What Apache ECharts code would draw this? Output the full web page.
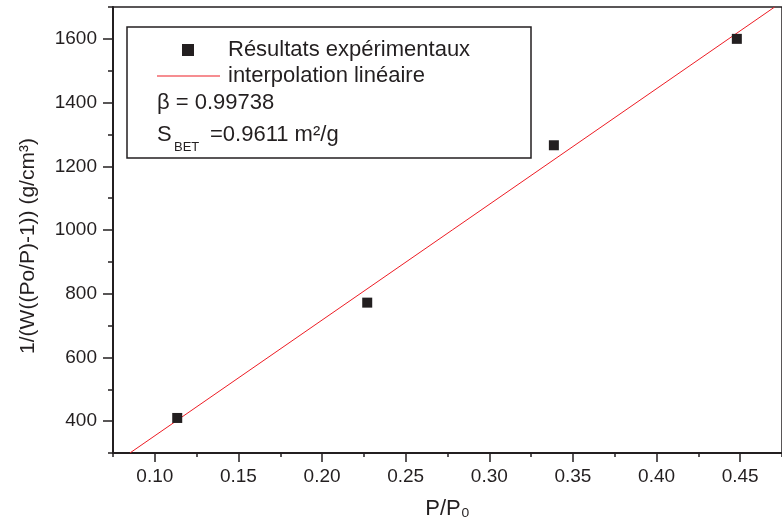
<!DOCTYPE html>
<html>
<head>
<meta charset="utf-8">
<script src="https://cdn.jsdelivr.net/npm/echarts@6/dist/echarts.min.js"></script>
<style>
html,body{margin:0;padding:0;background:#fff;}
#chart{width:782px;height:529px;}
</style>
</head>
<body>
<div id="chart"></div>
<script>
// ---- data ----
var pointsX = [0.1134, 0.227, 0.3386, 0.448];
var pointsY = [410, 772, 1266, 1600];
var fitX = [0.0851, 0.4706];
var fitY = [300, 1700];
var xMajorTicks = [0.10, 0.15, 0.20, 0.25, 0.30, 0.35, 0.40, 0.45];
var yMajorTicks = [400, 600, 800, 1000, 1200, 1400, 1600];
var seriesNames = ['Résultats expérimentaux', 'interpolation linéaire'];
var betaText = 'β = 0.99738';
var sbetMain = 'S';
var sbetSub = 'BET';
var sbetValue = '=0.9611 m²/g';
var xTitle = 'P/P₀';
var yTitle = '1/(W((Po/P)-1)) (g/cm³)';

var INK = '#231f20';
var RED = '#ed1c24';
var FONT = '"Liberation Sans", Arial, sans-serif';

var scatterData = pointsX.map(function (x, i) { return [x, pointsY[i]]; });
var fitData = fitX.map(function (x, i) { return [x, fitY[i]]; });

var chart = echarts.init(document.getElementById('chart'));
chart.setOption({
  animation: false,
  backgroundColor: '#fff',
  grid: {
    left: 113, top: 7, right: -11, bottom: 76,
    show: true, borderColor: INK, borderWidth: 1.5,
    containLabel: false
  },
  xAxis: [{
    type: 'value', min: 0.075, max: 0.475, position: 'bottom',
    axisLine: { show: true, onZero: false, lineStyle: { color: INK, width: 2 } },
    axisTick: { show: true, customValues: xMajorTicks, length: 9, lineStyle: { color: INK, width: 1.5 } },
    axisLabel: {
      customValues: xMajorTicks, margin: 14, color: INK, fontSize: 19, fontFamily: FONT,
      formatter: function (v) { return v.toFixed(2); }
    },
    splitLine: { show: false },
    name: xTitle, nameLocation: 'middle', nameGap: 45,
    nameTextStyle: { color: INK, fontSize: 22, fontFamily: FONT }
  }, {
    type: 'value', min: 0.075, max: 0.475, interval: 0.025, position: 'bottom',
    axisLine: { show: false },
    axisTick: { show: true, length: 4, lineStyle: { color: INK, width: 1.5 } },
    axisLabel: { show: false },
    splitLine: { show: false }
  }],
  yAxis: [{
    type: 'value', min: 300, max: 1700, position: 'left',
    axisLine: { show: true, onZero: false, lineStyle: { color: INK, width: 2 } },
    axisTick: { show: true, customValues: yMajorTicks, length: 10, lineStyle: { color: INK, width: 1.5 } },
    axisLabel: {
      customValues: yMajorTicks, margin: 16, color: INK, fontSize: 19, fontFamily: FONT,
      formatter: function (v) { return String(Math.round(v)); }
    },
    splitLine: { show: false },
    name: yTitle, nameLocation: 'middle', nameGap: 74, nameRotate: 90,
    nameTextStyle: { color: INK, fontSize: 21, fontFamily: FONT, padding: [0, 32, 0, 0] }
  }, {
    type: 'value', min: 300, max: 1700, interval: 100, position: 'left',
    axisLine: { show: false },
    axisTick: { show: true, length: 5, lineStyle: { color: INK, width: 1.5 } },
    axisLabel: { show: false },
    splitLine: { show: false }
  }],
  legend: [{
    data: [{ name: seriesNames[0], icon: 'rect' }], left: 182, top: 37, padding: 0,
    itemWidth: 12, itemHeight: 12, selectedMode: false,
    itemStyle: { opacity: 1 },
    textStyle: { color: INK, fontSize: 22, fontFamily: FONT, lineHeight: 26, padding: [0, 0, 0, 29] }
  }, {
    data: [{ name: seriesNames[1], icon: 'rect', itemStyle: { color: RED } }], left: 157, top: 63, padding: 0,
    itemWidth: 63, itemHeight: 1.2, selectedMode: false,
    textStyle: { color: INK, fontSize: 22, fontFamily: FONT, lineHeight: 26, padding: [0, 0, 0, 3] }
  }],
  graphic: [
    { type: 'rect', shape: { x: 127, y: 27, width: 404, height: 131 },
      style: { fill: 'none', stroke: INK, lineWidth: 1.5 }, z: 10 },
    { type: 'text', z: 10, style: { x: 157, y: 103, text: betaText, font: '22px ' + FONT, fill: INK, align: 'left', verticalAlign: 'middle' } },
    { type: 'text', z: 10, style: { x: 157, y: 135, text: sbetMain, font: '22px ' + FONT, fill: INK, align: 'left', verticalAlign: 'middle' } },
    { type: 'text', z: 10, style: { x: 174, y: 147, text: sbetSub, font: '13px ' + FONT, fill: INK, align: 'left', verticalAlign: 'middle' } },
    { type: 'text', z: 10, style: { x: 210, y: 135, text: sbetValue, font: '22px ' + FONT, fill: INK, align: 'left', verticalAlign: 'middle' } }
  ],
  series: [{
    name: seriesNames[0], type: 'scatter', xAxisIndex: 0, yAxisIndex: 0,
    symbol: 'rect', symbolSize: 10,
    itemStyle: { color: INK, opacity: 1 },
    data: scatterData, z: 3
  }, {
    name: seriesNames[1], type: 'line', xAxisIndex: 0, yAxisIndex: 0,
    symbol: 'none', showSymbol: false, clip: true,
    lineStyle: { color: RED, width: 1 },
    itemStyle: { color: RED },
    data: fitData, z: 2
  }]
});
</script>
</body>
</html>
